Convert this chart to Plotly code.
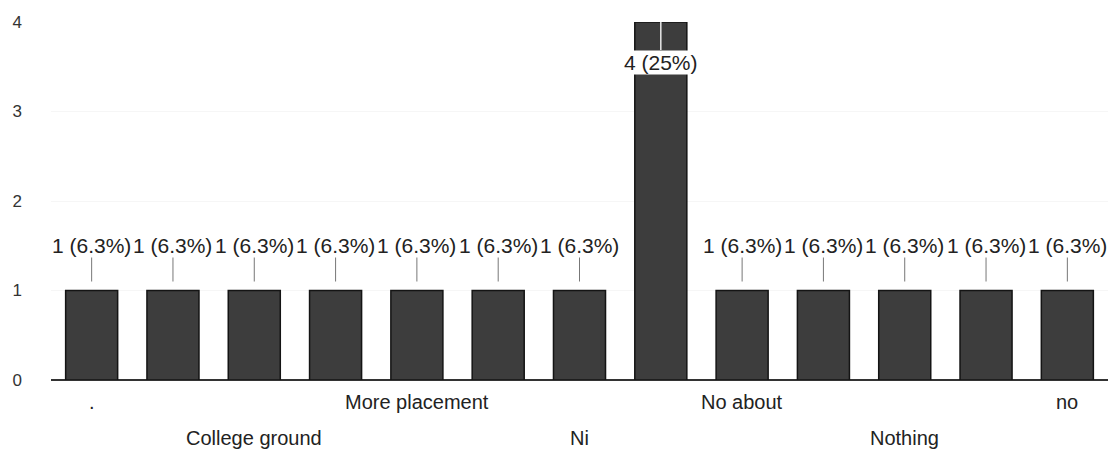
import plotly.graph_objects as go

# Data (13 answers, 16 responses in total)
categories = [".", "answer 2", "College ground", "answer 4", "More placement",
              "answer 6", "Ni", "No", "No about", "answer 10", "Nothing",
              "answer 12", "no"]
counts = [1, 1, 1, 1, 1, 1, 1, 4, 1, 1, 1, 1, 1]
percent_labels = ["6.3%", "6.3%", "6.3%", "6.3%", "6.3%", "6.3%", "6.3%",
                  "25%", "6.3%", "6.3%", "6.3%", "6.3%", "6.3%"]
# which category labels are visible on the axis, and in which row
shown_labels = {0: "upper", 2: "lower", 4: "upper", 6: "lower",
                8: "upper", 10: "lower", 12: "upper"}
y_ticks = [0, 1, 2, 3, 4]

FONT = "Liberation Sans, Arial, sans-serif"

fig = go.Figure()
fig.add_trace(go.Bar(
    x=categories, y=counts,
    marker=dict(color="#3d3d3d", line=dict(color="#141414", width=1.5)),
    hoverinfo="skip",
))

annotations = []
ymax = max(counts)
for i, (cat, c, p) in enumerate(zip(categories, counts, percent_labels)):
    txt = f"{c} ({p})"
    if c == ymax:
        annotations.append(dict(
            x=cat, y=c, xref="x", yref="y", text=txt, showarrow=True,
            arrowhead=0, arrowwidth=1.5, arrowcolor="#e8e8e8", ax=0, ay=40,
            standoff=0, bgcolor="white", borderpad=0,
            font=dict(family=FONT, size=21, color="#222")))
    else:
        annotations.append(dict(
            x=cat, y=c, xref="x", yref="y", text=txt, showarrow=True,
            arrowhead=0, arrowwidth=1, arrowcolor="#777", ax=0, ay=-45,
            standoff=9, bgcolor="white", borderpad=0,
            font=dict(family=FONT, size=21, color="#222")))

for i, row in shown_labels.items():
    annotations.append(dict(
        x=categories[i], y=0, xref="x", yref="paper", text=categories[i],
        showarrow=False, yanchor="middle",
        yshift=-22 if row == "upper" else -58,
        font=dict(family=FONT, size=20, color="#222")))

# page body has an 8px margin, so the figure is sized to fit the window
fig.update_layout(
    width=1111, height=446,
    margin=dict(l=43, r=11, t=14, b=74, autoexpand=False),
    paper_bgcolor="white", plot_bgcolor="white",
    showlegend=False, bargap=0.36,
    annotations=annotations,
    xaxis=dict(showticklabels=False, showgrid=False, zeroline=False,
               showline=False, ticks="", range=[-0.5, 12.5], automargin=False),
    yaxis=dict(range=[0, 4], tickvals=y_ticks, showgrid=True,
               gridcolor="#f6f6f6", zeroline=True, zerolinecolor="#333",
               zerolinewidth=1.5, ticklabelstandoff=28, automargin=False,
               tickfont=dict(family=FONT, size=17, color="#333")),
)

fig.write_html("out.html")
